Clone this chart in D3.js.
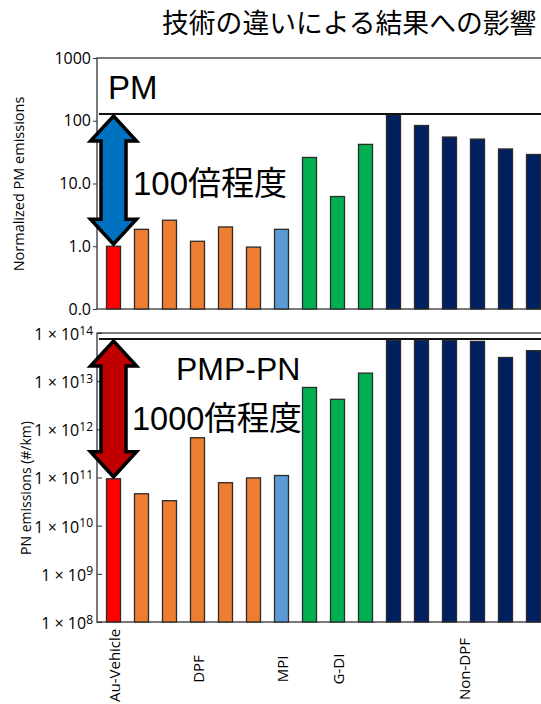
<!DOCTYPE html>
<html>
<head>
<meta charset="utf-8">
<script src="https://cdn.jsdelivr.net/npm/d3@7"></script>
<style>
  body { margin: 0; background: #fff; }
  svg { display: block; }
</style>
</head>
<body>
<script>
// one bar per vehicle, same order in both panels
var vehicles = ["Au", "DPF-1", "DPF-2", "DPF-3", "DPF-4", "DPF-5", "MPI",
  "GDI-1", "GDI-2", "GDI-3", "ND-1", "ND-2", "ND-3", "ND-4", "ND-5", "ND-6"];
var groupOf = ["Au-Vehicle", "DPF", "DPF", "DPF", "DPF", "DPF", "MPI",
  "G-DI", "G-DI", "G-DI", "Non-DPF", "Non-DPF", "Non-DPF", "Non-DPF", "Non-DPF", "Non-DPF"];
var groupNames = ["Au-Vehicle", "DPF", "MPI", "G-DI", "Non-DPF"];
var groupColors = ["#ff0000", "#ed7d31", "#5b9bd5", "#00b050", "#002060"];

// normalized PM emissions (Au-Vehicle = 1)
var pmValues = [1.0, 1.86, 2.6, 1.2, 2.03, 0.97, 1.86, 26, 6.2, 42, 124, 84, 55, 51, 35.5, 29];
// PMP-PN emissions (#/km)
var pnValues = [9.4e10, 4.6e10, 3.3e10, 6.7e11, 7.8e10, 9.8e10, 1.1e11,
  7.4e12, 4.2e12, 1.47e13, 7.1e13, 7.1e13, 7.1e13, 6.7e13, 3.1e13, 4.3e13];

var pmTicks = [0.1, 1, 10, 100, 1000];
var pmTickLabels = ["0.0", "1.0", "10.0", "100", "1000"];
var pnTicks = [1e8, 1e9, 1e10, 1e11, 1e12, 1e13, 1e14];

// reference lines under the panel titles
var pmCap = 128, pnCap = 7.5e13;

var w = 541, h = 704;
var left = 97;
var svg = d3.select("body").append("svg")
  .attr("width", w)
  .attr("height", h);

var jp = "'Noto Sans CJK JP', sans-serif";
var lat = "'Liberation Sans', 'Noto Sans CJK JP', sans-serif";
var lbl = "'Open Sans', sans-serif";

svg.append("text")
  .attr("x", 162)
  .attr("y", 33)
  .style("font-family", jp)
  .style("font-size", "26.8px")
  .text("技術の違いによる結果への影響");

var x = d3.scaleBand()
  .domain(d3.range(vehicles.length))
  .range([99.5, 547.5])
  .paddingInner(0.5)
  .paddingOuter(0.25);

var yPM = d3.scaleLog().domain([0.1, 1000]).range([309, 58]);
var yPN = d3.scaleLog().domain([1e8, 1e14]).range([622, 333]);

function color(i) {
  return groupColors[groupNames.indexOf(groupOf[i])];
}

function panel(y, values, cap) {
  var g = svg.append("g");
  var r = y.range();
  g.append("rect")
    .attr("x", left)
    .attr("y", r[1])
    .attr("width", 460)
    .attr("height", r[0] - r[1])
    .style("fill", "none")
    .style("stroke", "#333")
    .style("stroke-width", 1.3);

  g.selectAll(".bar")
    .data(values)
    .enter().append("rect")
      .attr("class", "bar")
      .attr("x", function(d, i) { return x(i); })
      .attr("y", function(d) { return y(d); })
      .attr("width", x.bandwidth())
      .attr("height", function(d) { return r[0] - y(d); })
      .style("fill", function(d, i) { return color(i); })
      .style("stroke", "#2b2b2b")
      .style("stroke-width", 1.3);

  g.append("line")
    .attr("x1", left + 2).attr("x2", w)
    .attr("y1", y(cap)).attr("y2", y(cap))
    .style("stroke", "#111")
    .style("stroke-width", 1.8);
  return g;
}

var gPM = panel(yPM, pmValues, pmCap);
var gPN = panel(yPN, pnValues, pnCap);

// y axes
var axPM = svg.append("g")
  .attr("transform", "translate(" + left + ",0)")
  .call(d3.axisLeft(yPM).tickValues(pmTicks).tickSize(4)
    .tickFormat(function(d, i) { return pmTickLabels[i]; }));
axPM.select(".domain").remove();
axPM.selectAll("text")
  .style("font-family", lbl)
  .style("font-size", "16px")
  .attr("x", -6);

var axPN = svg.append("g")
  .attr("transform", "translate(" + left + ",0)")
  .call(d3.axisLeft(yPN).tickValues(pnTicks).tickSize(-5).tickFormat(""));
axPN.select(".domain").remove();
axPN.selectAll(".tick text").each(function(d) {
  var t = d3.select(this)
    .attr("x", -4)
    .attr("dy", "0.4em")
    .style("font-family", lbl)
    .style("font-size", "16px");
  t.append("tspan").text("1 \u00d7 10");
  t.append("tspan")
    .attr("dy", "-0.45em")
    .style("font-size", "12px")
    .text(Math.round(Math.log10(d)));
});
svg.selectAll(".tick line").style("stroke", "#333");
svg.selectAll(".tick text").style("fill", "#000");

svg.append("text")
  .attr("transform", "translate(18,184) rotate(-90)")
  .attr("text-anchor", "middle")
  .attr("dominant-baseline", "central")
  .style("font-family", lbl)
  .style("font-size", "14.5px")
  .text("Normalized PM emissions");

svg.append("text")
  .attr("transform", "translate(25,488) rotate(-90)")
  .attr("text-anchor", "middle")
  .attr("dominant-baseline", "central")
  .style("font-family", lbl)
  .style("font-size", "14px")
  .text("PN emissions (#/km)");

// group labels under the bars, kept inside the bottom edge
groupNames.forEach(function(name) {
  var idx = d3.range(vehicles.length).filter(function(i) { return groupOf[i] === name; });
  var cx = d3.mean(idx, function(i) { return x(i) + x.bandwidth() / 2; });
  var t = svg.append("text")
    .attr("text-anchor", "middle")
    .attr("dominant-baseline", "central")
    .style("font-family", lbl)
    .style("font-size", "15px")
    .text(name);
  var half = t.node().getComputedTextLength() / 2;
  var cy = Math.min(669, h - 2 - half);
  t.attr("transform", "translate(" + cx + "," + cy + ") rotate(-90)");
});

// double arrows from the reference line down to the Au-Vehicle bar
function arrow(yTop, yBot, fill) {
  var cx = x(0) + x.bandwidth() / 2;
  var hw = 23, sw = 12.5, hl = 25;
  var pts = [
    [cx, yTop], [cx + hw, yTop + hl], [cx + sw, yTop + hl],
    [cx + sw, yBot - hl], [cx + hw, yBot - hl], [cx, yBot],
    [cx - hw, yBot - hl], [cx - sw, yBot - hl], [cx - sw, yTop + hl],
    [cx - hw, yTop + hl]
  ];
  svg.append("polygon")
    .attr("points", pts.map(function(p) { return p.join(","); }).join(" "))
    .style("fill", fill)
    .style("stroke", "#000")
    .style("stroke-width", 3.5)
    .style("stroke-linejoin", "miter");
}
arrow(yPM(pmCap) + 2, yPM(pmValues[0]) - 2, "#0070c0");
arrow(yPN(pnCap) + 2, yPN(pnValues[0]) - 2, "#c00000");

// panel captions
svg.append("text")
  .attr("x", 108).attr("y", 99)
  .style("font-family", lat)
  .style("font-size", "33px")
  .text("PM");
svg.append("text")
  .attr("x", 133).attr("y", 195)
  .style("font-family", lat)
  .style("font-size", "33px")
  .text("100倍程度");
svg.append("text")
  .attr("x", 176).attr("y", 380)
  .style("font-family", lat)
  .style("font-size", "32px")
  .text("PMP-PN");
svg.append("text")
  .attr("x", 132).attr("y", 430)
  .style("font-family", lat)
  .style("font-size", "32.5px")
  .text("1000倍程度");
</script>
</body>
</html>
